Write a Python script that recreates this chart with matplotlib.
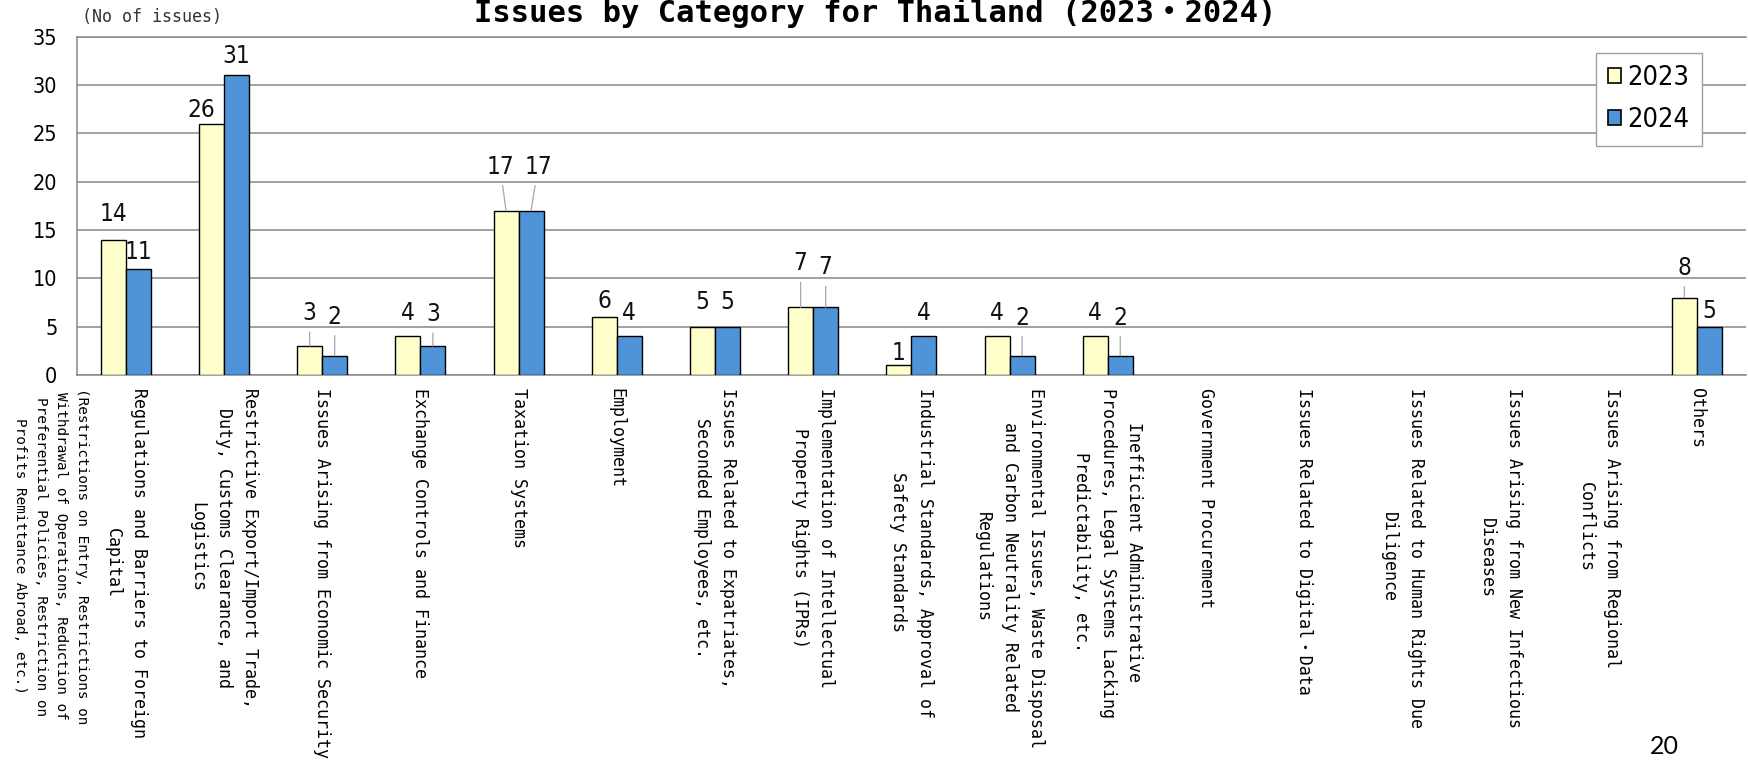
"""Grouped bar chart: number of issues by category for Thailand, 2023 vs 2024."""

import matplotlib
matplotlib.use("Agg")
import matplotlib.pyplot as plt
import numpy as np

CATEGORIES = [
    "Regulations and Barriers to Foreign\nCapital",
    "Restrictive Export/Import Trade,\nDuty, Customs Clearance, and\nLogistics",
    "Issues Arising from Economic Security",
    "Exchange Controls and Finance",
    "Taxation Systems",
    "Employment",
    "Issues Related to Expatriates,\nSeconded Employees, etc.",
    "Implementation of Intellectual\nProperty Rights (IPRs)",
    "Industrial Standards, Approval of\nSafety Standards",
    "Environmental Issues, Waste Disposal\nand Carbon Neutrality Related\nRegulations",
    "Inefficient Administrative\nProcedures, Legal Systems Lacking\nPredictability, etc.",
    "Government Procurement",
    "Issues Related to Digital・Data",
    "Issues Related to Human Rights Due\nDiligence",
    "Issues Arising from New Infectious\nDiseases",
    "Issues Arising from Regional\nConflicts",
    "Others",
]
REG_NOTE = ("(Restrictions on Entry, Restrictions on\n"
            "Withdrawal of Operations, Reduction of\n"
            "Preferential Policies, Restriction on\n"
            "Profits Remittance Abroad, etc.)")
YEARS = ["2023", "2024"]
ISSUES_2023 = [14, 26, 3, 4, 17, 6, 5, 7, 1, 4, 4, 0, 0, 0, 0, 0, 8]
ISSUES_2024 = [11, 31, 2, 3, 17, 4, 5, 7, 4, 2, 2, 0, 0, 0, 0, 0, 5]
Y_TICKS = [0, 5, 10, 15, 20, 25, 30, 35]

TITLE = "Issues by Category for Thailand (2023・2024)"
UNIT = "(No of issues)"
PAGE = "20"

COLORS = ["#FFFFCC", "#4F94D8"]
GRID = "#878787"
LEADER = "#A8A8A8"
MONO = ["DejaVu Sans Mono", "Noto Sans CJK JP"]
NARROW = dict(family="DejaVu Sans", stretch="condensed")

# label placement (pixels from bar top) where labels were nudged apart; leader drawn when flagged
LABEL_NUDGE = {
    (0, 0): (0, 26, False), (0, 1): (0, 17, False),
    (1, 0): (-10, 14, False), (1, 1): (0, 19, False),
    (2, 0): (0, 33, True), (2, 1): (0, 39, True),
    (3, 0): (0, 23, False), (3, 1): (0, 32, True),
    (4, 0): (-6, 44, True), (4, 1): (7, 44, True),
    (5, 0): (0, 16, False), (5, 1): (0, 23, False),
    (6, 0): (0, 25, False), (6, 1): (0, 25, False),
    (7, 0): (0, 44, True), (7, 1): (0, 40, True),
    (8, 0): (0, 12, False), (8, 1): (0, 23, False),
    (9, 0): (0, 23, False), (9, 1): (0, 38, True),
    (10, 0): (0, 23, False), (10, 1): (0, 38, True),
    (16, 0): (0, 30, True), (16, 1): (0, 16, False),
}


def main() -> None:
    W, H = 1748, 760
    fig = plt.figure(figsize=(W / 100, H / 100), dpi=100)
    left, right, top, bottom = 76.7, 1746.0, 36.7, 375.0
    ax = fig.add_axes([left / W, 1 - bottom / H, (right - left) / W, (bottom - top) / H])

    x = np.arange(len(CATEGORIES))
    width = 0.255
    series = [ISSUES_2023, ISSUES_2024]
    for k, (vals, color, year) in enumerate(zip(series, COLORS, YEARS)):
        pos = x + (k - 0.5) * width
        vals = np.asarray(vals)
        shown = vals > 0
        ax.bar(pos[shown], vals[shown], width, color=color, edgecolor="black",
               linewidth=1.0, label=year, zorder=3)
        for i in np.flatnonzero(shown):
            v = int(vals[i])
            dx, dy, leader = LABEL_NUDGE.get((i, k), (0, 18, False))
            props = None
            if leader:
                props = dict(arrowstyle="-", color=LEADER, lw=0.9, shrinkA=3, shrinkB=0)
            ax.annotate(str(v), xy=(pos[i], v), xytext=(dx, dy), textcoords="offset pixels",
                        ha="center", va="center", fontsize=17.5, color="#111111",
                        arrowprops=props, zorder=4, **NARROW)

    ax.set_xlim(-0.5, len(CATEGORIES) - 0.5)
    ax.set_ylim(0, 35)
    ax.set_yticks(Y_TICKS)
    ax.set_yticklabels([str(t) for t in Y_TICKS], fontsize=15.5, **NARROW)
    ax.tick_params(axis="y", length=0, pad=14)
    ax.yaxis.grid(True, color=GRID, linewidth=1.1, zorder=0)
    ax.set_axisbelow(True)

    ax.set_xticks(x)
    ax.set_xticklabels(CATEGORIES, rotation=-90, family=MONO, fontsize=12,
                       linespacing=1.6, ha="center", va="top")
    ax.tick_params(axis="x", length=0, pad=9)

    for name in ("left", "bottom", "top"):
        ax.spines[name].set_color(GRID)
        ax.spines[name].set_linewidth(1.1)
    ax.spines["right"].set_visible(False)

    # parenthetical note under the first category, set smaller to the left
    fig.text(51 / W, 1 - 388 / H, REG_NOTE, rotation=-90, ha="center", va="top",
             family=MONO, fontsize=10.4, linespacing=1.62, multialignment="center")

    leg = ax.legend(loc="upper left", bbox_to_anchor=(0.910, 0.952), borderaxespad=0,
                    prop={"family": "DejaVu Sans", "stretch": "condensed", "size": 19.5},
                    handlelength=0.48, handleheight=0.45, handletextpad=0.25,
                    labelspacing=0.6, borderpad=0.45, fancybox=False, framealpha=1)
    leg.get_frame().set_edgecolor("#A0A0A0")
    leg.get_frame().set_linewidth(1.0)
    for patch in leg.get_patches():
        patch.set_linewidth(1.2)

    fig.text(875 / W, 1 - 21.7 / H, TITLE, ha="center", va="baseline",
             family=MONO, fontsize=22, fontweight="bold")
    fig.text(82 / W, 1 - 16.7 / H, UNIT, ha="left", va="center",
             family=MONO, fontsize=12, color="#333333")
    fig.text(1664 / W, 1 - 746 / H, PAGE, ha="center", va="center",
             family=["Lato", "DejaVu Sans"], fontsize=18)

    fig.savefig("out.png", dpi=100)
    plt.close(fig)


if __name__ == "__main__":
    main()
